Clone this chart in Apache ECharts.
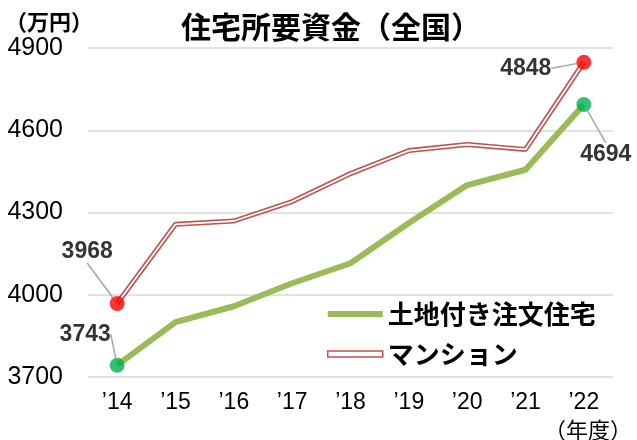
<!DOCTYPE html>
<html>
<head>
<meta charset="utf-8">
<script src="https://cdn.jsdelivr.net/npm/echarts@6/dist/echarts.min.js"></script>
<style>
  html, body { margin: 0; padding: 0; background: #fff; }
  #main { width: 637px; height: 440px; }
</style>
</head>
<body>
<div id="main"></div>
<script>
// 住宅所要資金（全国）
var years = ['’14', '’15', '’16', '’17', '’18', '’19', '’20', '’21', '’22'];
var chumon = [3743, 3900, 3958, 4042, 4115, 4262, 4400, 4456, 4694];
var mansion = [3968, 4257, 4269, 4340, 4442, 4526, 4548, 4530, 4848];
var yTicks = [3700, 4000, 4300, 4600, 4900];

var numFont = '"Liberation Sans Narrow", "Liberation Sans", sans-serif';
var jpFont = '"Noto Sans CJK JP", sans-serif';

// 端点ラベルのずらし量 [dx, dy]
var labelShift = {
    chumon: [[-32, -31], [22, 50]],
    mansion: [[-30, -52], [-58, 6]]
};

function endPoints(values) {
    var last = values.length - 1;
    return [[0, values[0]], [last, values[last]]];
}

function endSeries(name, values, color, shift) {
    return {
        name: name + '_end',
        type: 'scatter',
        data: endPoints(values),
        symbolSize: 15,
        z: 5,
        itemStyle: { color: color },
        emphasis: { disabled: true },
        label: {
            show: true,
            position: 'inside',
            formatter: function (p) { return p.value[1]; },
            color: '#000',
            fontFamily: numFont,
            fontWeight: 'bold',
            fontSize: 23
        },
        labelLayout: function (p) {
            var s = shift[p.dataIndex];
            return { dx: s[0], dy: s[1] };
        },
        labelLine: {
            show: true,
            lineStyle: { color: '#a6a6a6', width: 1.5 }
        }
    };
}

var chart = echarts.init(document.getElementById('main'));

var option = {
    animation: false,
    title: [
        {
            text: '住宅所要資金（全国）',
            left: 326,
            top: 7,
            textAlign: 'center',
            textStyle: { fontFamily: jpFont, fontSize: 30, fontWeight: 'bold', color: '#000' }
        },
        {
            text: '（万円）',
            left: 0,
            top: 6,
            textStyle: { fontFamily: jpFont, fontSize: 22, fontWeight: 'bold', color: '#000' }
        },
        {
            text: '（年度）',
            right: 0,
            top: 414,
            textStyle: { fontFamily: jpFont, fontSize: 22, fontWeight: 'normal', color: '#000' }
        }
    ],
    grid: {
        left: 88,
        right: 24,
        top: 48,
        bottom: 63,
        outerBoundsMode: 'none'
    },
    legend: {
        orient: 'vertical',
        left: 322,
        top: 296,
        itemWidth: 55,
        itemHeight: 6,
        itemGap: 14,
        textStyle: { fontFamily: jpFont, fontSize: 26, fontWeight: 'bold', color: '#000' },
        data: [
            { name: '土地付き注文住宅', icon: 'rect', itemStyle: { color: '#9bbb59' } },
            { name: 'マンション', icon: 'rect', itemStyle: { color: '#fff', borderColor: '#c0504d', borderWidth: 1.5 } }
        ]
    },
    xAxis: {
        type: 'category',
        data: years,
        boundaryGap: true,
        axisLine: { show: false },
        axisTick: { show: false },
        axisLabel: {
            margin: 14,
            color: '#000',
            fontFamily: numFont,
            fontSize: 23
        }
    },
    yAxis: {
        type: 'value',
        min: yTicks[0],
        max: yTicks[yTicks.length - 1],
        interval: 300,
        axisLine: { show: false },
        axisTick: { show: false },
        splitLine: { lineStyle: { color: '#d9d9d9', width: 1.5 } },
        axisLabel: {
            margin: 25,
            color: '#000',
            fontFamily: numFont,
            fontSize: 25,
            formatter: function (v) { return String(v); }
        }
    },
    series: [
        {
            name: 'マンション',
            type: 'line',
            data: mansion,
            symbol: 'none',
            z: 2,
            lineStyle: { color: '#c0504d', width: 5 }
        },
        {
            name: 'マンション_inner',
            type: 'line',
            data: mansion,
            symbol: 'none',
            z: 3,
            lineStyle: { color: '#fff', width: 1.8 }
        },
        {
            name: '土地付き注文住宅',
            type: 'line',
            data: chumon,
            symbol: 'none',
            z: 2,
            lineStyle: { color: '#9bbb59', width: 6 }
        },
        endSeries('マンション', mansion, '#ff0000', labelShift.mansion),
        endSeries('土地付き注文住宅', chumon, '#00b050', labelShift.chumon)
    ]
};

chart.setOption(option);
</script>
</body>
</html>
